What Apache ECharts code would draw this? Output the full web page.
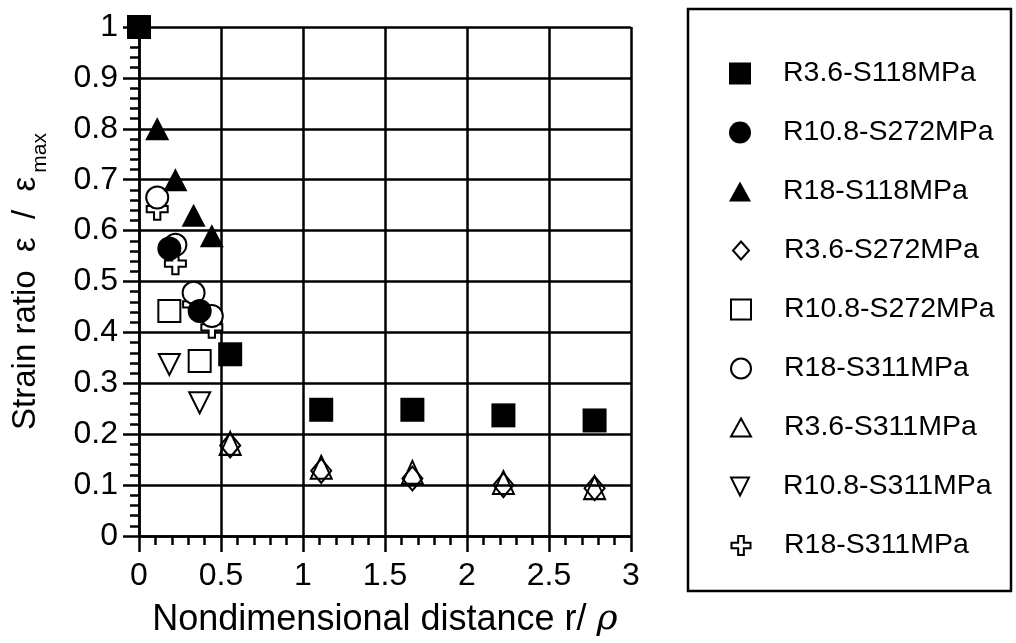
<!DOCTYPE html>
<html>
<head>
<meta charset="utf-8">
<script src="https://cdn.jsdelivr.net/npm/echarts@6/dist/echarts.min.js"></script>
<style>
  html, body { margin: 0; padding: 0; background: #fff; }
  #chart { width: 1016px; height: 643px; }
</style>
</head>
<body>
<div id="chart"></div>
<script>
// ---- data ----
const xTickLabels = ['0', '0.5', '1', '1.5', '2', '2.5', '3'];
const yTickLabels = ['0', '0.1', '0.2', '0.3', '0.4', '0.5', '0.6', '0.7', '0.8', '0.9', '1'];

const seriesNames = [
  'R3.6-S118MPa', 'R10.8-S272MPa', 'R18-S118MPa', 'R3.6-S272MPa',
  'R10.8-S272MPa', 'R18-S311MPa', 'R3.6-S311MPa', 'R10.8-S311MPa', 'R18-S311MPa'
];

const r36_s118 = [[0, 1], [0.556, 0.357], [1.111, 0.248], [1.667, 0.248], [2.222, 0.237], [2.778, 0.227]];
const r108_s272_filled = [[0.185, 0.565], [0.370, 0.442]];
const r18_s118 = [[0.111, 0.80], [0.222, 0.70], [0.333, 0.63], [0.444, 0.59]];
const r36_s272 = [[0.556, 0.178], [1.111, 0.128], [1.667, 0.113], [2.222, 0.100], [2.778, 0.094]];
const r108_s272_open = [[0.185, 0.442], [0.370, 0.344]];
const r18_s311_circle = [[0.111, 0.665], [0.222, 0.572], [0.333, 0.478], [0.444, 0.432]];
const r36_s311 = [[0.556, 0.182], [1.111, 0.135], [1.667, 0.125], [2.222, 0.105], [2.778, 0.095]];
const r108_s311 = [[0.185, 0.337], [0.370, 0.262]];
const r18_s311_plus = [[0.111, 0.642], [0.222, 0.535], [0.333, 0.455], [0.444, 0.41]];

// ---- chart ----
const FONT = "'Liberation Sans', Arial, Helvetica, sans-serif";
const PLUS = 'path://M35,0 H65 V35 H100 V65 H65 V100 H35 V65 H0 V35 H35 Z';
const DOWN_TRI = 'path://M0,0 L100,0 L50,100 Z';
const chart = echarts.init(document.getElementById('chart'), null, { renderer: 'canvas' });

function mk(idx, data, symbol, size, fill, z) {
  // unique internal name (trailing spaces) so duplicate labels stay separate legend items
  const name = seriesNames[idx] + ' '.repeat(idx);
  return {
    name: name,
    type: 'scatter',
    data: data,
    symbol: symbol,
    symbolSize: size,
    z: z,
    itemStyle: {
      color: fill,
      borderColor: '#000',
      borderWidth: fill === '#000' ? 0 : 2,
      opacity: 1
    },
    emphasis: { disabled: true }
  };
}

const series = [
  mk(8, r18_s311_plus, PLUS, 21, '#fff', 2),
  mk(5, r18_s311_circle, 'circle', 22, '#fff', 3),
  mk(4, r108_s272_open, 'rect', 22, '#fff', 3),
  mk(7, r108_s311, DOWN_TRI, [21, 21], 'rgba(0,0,0,0)', 3),
  mk(3, r36_s272, 'diamond', [20, 24], 'rgba(0,0,0,0)', 3),
  mk(6, r36_s311, 'triangle', [21, 23], 'rgba(0,0,0,0)', 3),
  mk(0, r36_s118, 'rect', 24, '#000', 4),
  mk(1, r108_s272_filled, 'circle', 24, '#000', 4),
  mk(2, r18_s118, 'triangle', [24, 23], '#000', 4)
];

const legendIcons = [
  { icon: 'rect', w: 22, h: 22 },
  { icon: 'circle', w: 22, h: 22 },
  { icon: 'triangle', w: 22, h: 20 },
  { icon: 'diamond', w: 16, h: 18 },
  { icon: 'rect', w: 20, h: 20 },
  { icon: 'circle', w: 20, h: 20 },
  { icon: 'triangle', w: 20, h: 18 },
  { icon: DOWN_TRI, w: 20, h: 18 },
  { icon: PLUS, w: 19, h: 19 }
];

const legends = legendIcons.map((li, i) => ({
  data: [seriesNames[i] + ' '.repeat(i)],
  orient: 'vertical',
  left: 735 - li.w / 2,
  top: 70 + i * 59 - 16,
  height: 32,
  itemWidth: li.w, itemHeight: li.h,
  icon: li.icon,
  selectedMode: false,
  formatter: n => n.trim(),
  itemStyle: { borderWidth: i < 3 ? 0 : 2, borderColor: '#000' },
  textStyle: {
    fontSize: 28.5, fontFamily: FONT, color: '#000',
    padding: [0, 0, 0, 778 - (735 + li.w / 2) - 5]
  }
}));

const option = {
  animation: false,
  backgroundColor: '#fff',
  textStyle: { fontFamily: FONT, color: '#000' },
  grid: { left: 139, right: 385, top: 27, bottom: 101, containLabel: false },
  xAxis: {
    type: 'value', min: 0, max: 3, interval: 0.5,
    name: '{a|Nondimensional distance r/ }{g|ρ}',
    nameLocation: 'middle', nameGap: 66,
    nameTextStyle: {
      rich: {
        a: { fontSize: 36, fontFamily: FONT, color: '#000' },
        g: { fontSize: 36, fontFamily: "'DejaVu Serif', serif", fontStyle: 'italic', color: '#000' }
      }
    },
    axisLine: { show: true, onZero: false, lineStyle: { color: '#000', width: 2.5 } },
    axisTick: { show: true, inside: false, length: 16, lineStyle: { color: '#000', width: 2.5 } },
    minorTick: { show: true, splitNumber: 5, length: 9, lineStyle: { color: '#000', width: 2.5 } },
    splitLine: { show: true, lineStyle: { color: '#000', width: 2.5 } },
    axisLabel: {
      fontSize: 32, color: '#000', fontFamily: FONT, margin: 24,
      formatter: v => xTickLabels[Math.round(v / 0.5)]
    }
  },
  yAxis: {
    type: 'value', min: 0, max: 1, interval: 0.1,
    name: '{a|Strain ratio  ε  /  ε}{b|max}',
    nameLocation: 'middle', nameGap: 88, nameRotate: 90,
    nameTextStyle: {
      rich: {
        a: { fontSize: 33, fontFamily: FONT, color: '#000' },
        b: { fontSize: 21, fontFamily: FONT, color: '#000', padding: [30, 0, 0, 4] }
      }
    },
    axisLine: { show: true, onZero: false, lineStyle: { color: '#000', width: 2.5 } },
    axisTick: { show: true, inside: false, length: 16, lineStyle: { color: '#000', width: 2.5 } },
    minorTick: { show: true, splitNumber: 5, length: 9, lineStyle: { color: '#000', width: 2.5 } },
    splitLine: { show: true, lineStyle: { color: '#000', width: 2.5 } },
    axisLabel: {
      fontSize: 32, color: '#000', fontFamily: FONT, margin: 21,
      formatter: v => yTickLabels[Math.round(v / 0.1)]
    }
  },
  legend: legends,
  graphic: [{
    type: 'rect',
    shape: { x: 688, y: 9, width: 323, height: 582 },
    style: { fill: 'none', stroke: '#000', lineWidth: 2.5 },
    silent: true
  }],
  series: series
};

chart.setOption(option);
</script>
</body>
</html>
